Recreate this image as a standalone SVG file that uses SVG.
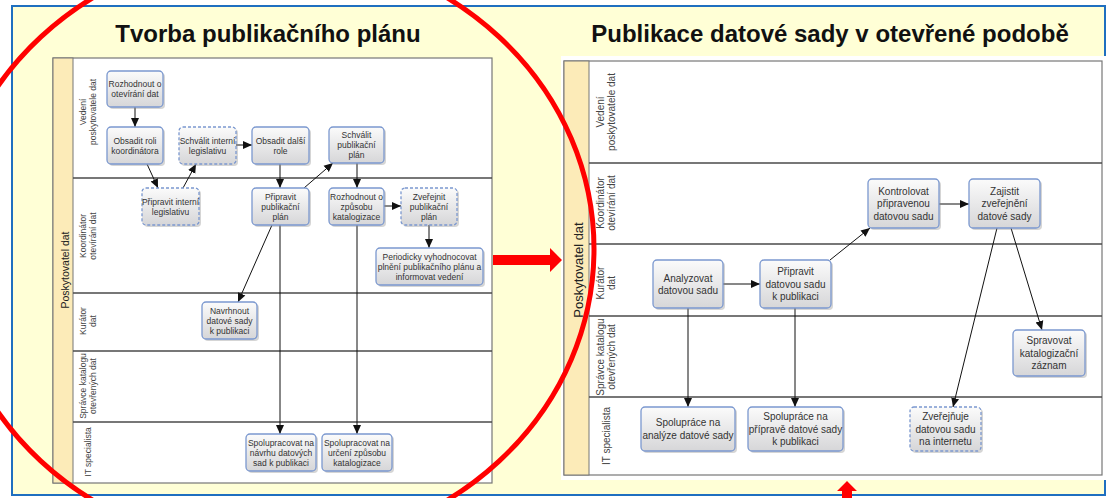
<svg xmlns="http://www.w3.org/2000/svg" width="1107" height="498" viewBox="0 0 1107 498">
<defs>
<linearGradient id="g" x1="0" y1="0" x2="0" y2="1">
<stop offset="0" stop-color="#FBFBFB"/>
<stop offset="1" stop-color="#D6D6D8"/>
</linearGradient>
<marker id="ah" markerUnits="userSpaceOnUse" markerWidth="10" markerHeight="10" viewBox="0 0 10 10" refX="9" refY="5" orient="auto">
<path d="M0,1 L9,5 L0,9 Z" fill="#111"/>
</marker>
<style>
.t{font-family:"Liberation Sans",Arial,sans-serif;fill:#333;text-anchor:middle}
.ln{font-size:8.5px}
.rn{font-size:10px}
.title{font-family:"Liberation Sans",Arial,sans-serif;font-weight:bold;font-size:24px;fill:#111;text-anchor:middle}
.box{fill:url(#g);stroke:#7B98CF;stroke-width:1.3}
.dash{stroke-dasharray:3 2}
.sh{fill:#888;opacity:.35}
.lane{stroke:#4a4a4a;stroke-width:1.3}
.pool{fill:#fff;stroke:#777;stroke-width:1.2}
.strip{fill:#FCEBB8;stroke:#777;stroke-width:1}
.lbl{font-family:"Liberation Sans",Arial,sans-serif;fill:#444;text-anchor:middle}
.c{fill:none;stroke:#111;stroke-width:1;marker-end:url(#ah)}
</style>
</defs>
<rect x="0" y="0" width="1107" height="498" fill="#fff"/>
<rect x="12" y="6" width="1093" height="489" fill="#FFFFD6" stroke="#1F6FC0" stroke-width="2"/>

<text class="title" x="268" y="42">Tvorba publikačního plánu</text>
<text class="title" x="830" y="42">Publikace datové sady v otevřené podobě</text>

<!-- LEFT POOL -->
<g id="pool-left">
<rect class="pool" x="53" y="58" width="439" height="425"/>
<rect class="strip" x="53" y="58" width="20" height="425"/>
<text class="lbl" style="font-size:10.5px;fill:#222" transform="translate(69,270) rotate(-90)">Poskytovatel dat</text>
<line class="lane" x1="73" y1="178" x2="492" y2="178"/>
<line class="lane" x1="73" y1="293" x2="492" y2="293"/>
<line class="lane" x1="73" y1="351" x2="492" y2="351"/>
<line class="lane" x1="73" y1="422" x2="492" y2="422"/>
<g style="font-size:8.5px">
<text class="lbl" transform="translate(86,112) rotate(-90)">Vedení</text>
<text class="lbl" transform="translate(96,112) rotate(-90)">poskytovatele dat</text>
<text class="lbl" transform="translate(86,236) rotate(-90)">Koordinátor</text>
<text class="lbl" transform="translate(96,236) rotate(-90)">otevírání dat</text>
<text class="lbl" transform="translate(86,321) rotate(-90)">Kurátor</text>
<text class="lbl" transform="translate(96,321) rotate(-90)">dat</text>
<text class="lbl" transform="translate(86,386) rotate(-90)">Správce katalogu</text>
<text class="lbl" transform="translate(96,386) rotate(-90)">otevřených dat</text>
<text class="lbl" transform="translate(91,452) rotate(-90)">IT specialista</text>
</g>
</g>

<!-- RIGHT POOL -->
<rect x="561" y="56" width="546" height="424" fill="#fff"/>
<g id="pool-right">
<rect class="pool" x="564" y="61" width="538" height="414"/>
<rect class="strip" x="564" y="61" width="25" height="414"/>
<text class="lbl" style="font-size:13px;fill:#222" transform="translate(583,270) rotate(-90)">Poskytovatel dat</text>
<line class="lane" x1="589" y1="163" x2="1102" y2="163"/>
<line class="lane" x1="589" y1="244" x2="1102" y2="244"/>
<line class="lane" x1="589" y1="316" x2="1102" y2="316"/>
<line class="lane" x1="589" y1="397" x2="1102" y2="397"/>
<g style="font-size:10px">
<text class="lbl" transform="translate(604,112) rotate(-90)">Vedení</text>
<text class="lbl" transform="translate(615,112) rotate(-90)">poskytovatele dat</text>
<text class="lbl" transform="translate(604,203) rotate(-90)">Koordinátor</text>
<text class="lbl" transform="translate(615,203) rotate(-90)">otevírání dat</text>
<text class="lbl" transform="translate(604,283) rotate(-90)">Kurátor</text>
<text class="lbl" transform="translate(615,283) rotate(-90)">dat</text>
<text class="lbl" transform="translate(604,357) rotate(-90)">Správce katalogu</text>
<text class="lbl" transform="translate(615,357) rotate(-90)">otevřených dat</text>
<text class="lbl" transform="translate(610,436) rotate(-90)">IT specialista</text>
</g>
</g>

<!-- CONNECTORS -->
<g id="connectors">
<path class="c" d="M135,107 V127"/>
<path class="c" d="M147,164 L158,188"/>
<path class="c" d="M183,188 L196,164"/>
<path class="c" d="M236,145 H252"/>
<path class="c" d="M280,164 V188"/>
<path class="c" d="M304,188 L333,163"/>
<path class="c" d="M357,163 V188"/>
<path class="c" d="M384,206 H401"/>
<path class="c" d="M429,225 V248"/>
<path class="c" d="M272,225 L238,302"/>
<path class="c" d="M280,225 V434"/>
<path class="c" d="M357,225 V434"/>
<path class="c" d="M723,284 H760"/>
<path class="c" d="M830,260 L870,228"/>
<path class="c" d="M939,204 H969"/>
<path class="c" d="M1011,228 L1042,330"/>
<path class="c" d="M997,228 L953,407"/>
<path class="c" d="M688,308 V407"/>
<path class="c" d="M795,308 V407"/>
</g>

<!-- LEFT NODES -->
<g id="n-rozhodnout-otevirani"><rect class="sh" x="109" y="73" width="56" height="36" rx="4"/><rect class="box" x="107" y="71" width="56" height="36" rx="4"/><text class="t ln" x="135" y="87">Rozhodnout o</text><text class="t ln" x="135" y="97">otevírání dat</text></g>
<g id="n-obsadit-roli"><rect class="sh" x="109" y="129" width="56" height="37" rx="4"/><rect class="box" x="107" y="127" width="56" height="37" rx="4"/><text class="t ln" x="135" y="143.5">Obsadit roli</text><text class="t ln" x="135" y="153.5">koordinátora</text></g>
<g id="n-schvalit-interni"><rect class="sh" x="181" y="129" width="57" height="37" rx="4"/><rect class="box dash" x="179" y="127" width="57" height="37" rx="4"/><text class="t ln" x="207.5" y="143.5">Schválit interní</text><text class="t ln" x="207.5" y="153.5">legislativu</text></g>
<g id="n-obsadit-dalsi"><rect class="sh" x="254" y="129" width="57" height="37" rx="4"/><rect class="box" x="252" y="127" width="57" height="37" rx="4"/><text class="t ln" x="280.5" y="143.5">Obsadit další</text><text class="t ln" x="280.5" y="153.5">role</text></g>
<g id="n-schvalit-plan"><rect class="sh" x="331" y="129" width="55" height="36" rx="4"/><rect class="box" x="329" y="127" width="55" height="36" rx="4"/><text class="t ln" x="356.5" y="138">Schválit</text><text class="t ln" x="356.5" y="148">publikační</text><text class="t ln" x="356.5" y="158">plán</text></g>
<g id="n-pripravit-interni"><rect class="sh" x="144" y="190" width="57" height="37" rx="4"/><rect class="box dash" x="142" y="188" width="57" height="37" rx="4"/><text class="t ln" x="170.5" y="204.5">Připravit interní</text><text class="t ln" x="170.5" y="214.5">legislativu</text></g>
<g id="n-pripravit-plan"><rect class="sh" x="254" y="190" width="57" height="37" rx="4"/><rect class="box" x="252" y="188" width="57" height="37" rx="4"/><text class="t ln" x="280.5" y="199.5">Připravit</text><text class="t ln" x="280.5" y="209.5">publikační</text><text class="t ln" x="280.5" y="219.5">plán</text></g>
<g id="n-rozhodnout-zpusob"><rect class="sh" x="331" y="190" width="55" height="37" rx="4"/><rect class="box" x="329" y="188" width="55" height="37" rx="4"/><text class="t ln" x="356.5" y="199.5">Rozhodnout o</text><text class="t ln" x="356.5" y="209.5">způsobu</text><text class="t ln" x="356.5" y="219.5">katalogizace</text></g>
<g id="n-zverejnit-plan"><rect class="sh" x="403" y="190" width="56" height="37" rx="4"/><rect class="box dash" x="401" y="188" width="56" height="37" rx="4"/><text class="t ln" x="429" y="199.5">Zveřejnit</text><text class="t ln" x="429" y="209.5">publikační</text><text class="t ln" x="429" y="219.5">plán</text></g>
<g id="n-periodicky"><rect class="sh" x="378" y="250" width="107" height="37" rx="4"/><rect class="box" x="376" y="248" width="107" height="37" rx="4"/><text class="t ln" x="429.5" y="259.5">Periodicky vyhodnocovat</text><text class="t ln" x="429.5" y="269.5">plnění publikačního plánu a</text><text class="t ln" x="429.5" y="279.5">informovat vedení</text></g>
<g id="n-navrhnout"><rect class="sh" x="204" y="304" width="55" height="37" rx="4"/><rect class="box" x="202" y="302" width="55" height="37" rx="4"/><text class="t ln" x="229.5" y="313.5">Navrhnout</text><text class="t ln" x="229.5" y="323.5">datové sady</text><text class="t ln" x="229.5" y="333.5">k publikaci</text></g>
<g id="n-spolupracovat-navrh"><rect class="sh" x="248" y="436" width="70" height="37" rx="4"/><rect class="box" x="246" y="434" width="70" height="37" rx="4"/><text class="t ln" x="281" y="445.5">Spolupracovat na</text><text class="t ln" x="281" y="455.5">návrhu datových</text><text class="t ln" x="281" y="465.5">sad k publikaci</text></g>
<g id="n-spolupracovat-urceni"><rect class="sh" x="324" y="436" width="70" height="37" rx="4"/><rect class="box" x="322" y="434" width="70" height="37" rx="4"/><text class="t ln" x="357" y="445.5">Spolupracovat na</text><text class="t ln" x="357" y="455.5">určení způsobu</text><text class="t ln" x="357" y="465.5">katalogizace</text></g>

<!-- RIGHT NODES -->
<g id="n-analyzovat"><rect class="sh" x="655" y="262" width="70" height="48" rx="4"/><rect class="box" x="653" y="260" width="70" height="48" rx="4"/><text class="t rn" x="688" y="281.5">Analyzovat</text><text class="t rn" x="688" y="294">datovou sadu</text></g>
<g id="n-pripravit-sadu"><rect class="sh" x="762" y="262" width="71" height="48" rx="4"/><rect class="box" x="760" y="260" width="71" height="48" rx="4"/><text class="t rn" x="795.5" y="275">Připravit</text><text class="t rn" x="795.5" y="287.5">datovou sadu</text><text class="t rn" x="795.5" y="300">k publikaci</text></g>
<g id="n-kontrolovat"><rect class="sh" x="870" y="181" width="71" height="49" rx="4"/><rect class="box" x="868" y="179" width="71" height="49" rx="4"/><text class="t rn" x="903.5" y="194.5">Kontrolovat</text><text class="t rn" x="903.5" y="207">připravenou</text><text class="t rn" x="903.5" y="219.5">datovou sadu</text></g>
<g id="n-zajistit"><rect class="sh" x="971" y="181" width="71" height="49" rx="4"/><rect class="box" x="969" y="179" width="71" height="49" rx="4"/><text class="t rn" x="1004.5" y="194.5">Zajistit</text><text class="t rn" x="1004.5" y="207">zveřejnění</text><text class="t rn" x="1004.5" y="219.5">datové sady</text></g>
<g id="n-spravovat"><rect class="sh" x="1015" y="332" width="72" height="46" rx="4"/><rect class="box" x="1013" y="330" width="72" height="46" rx="4"/><text class="t rn" x="1049" y="344">Spravovat</text><text class="t rn" x="1049" y="356.5">katalogizační</text><text class="t rn" x="1049" y="369">záznam</text></g>
<g id="n-spoluprace-analyza"><rect class="sh" x="643" y="409" width="94" height="44" rx="4"/><rect class="box" x="641" y="407" width="94" height="44" rx="4"/><text class="t rn" x="688" y="426">Spolupráce na</text><text class="t rn" x="688" y="438.5">analýze datové sady</text></g>
<g id="n-spoluprace-priprava"><rect class="sh" x="750" y="409" width="95" height="44" rx="4"/><rect class="box" x="748" y="407" width="95" height="44" rx="4"/><text class="t rn" x="795.5" y="420">Spolupráce na</text><text class="t rn" x="795.5" y="432.5">přípravě datové sady</text><text class="t rn" x="795.5" y="445">k publikaci</text></g>
<g id="n-zverejnuje"><rect class="sh" x="912" y="409" width="71" height="44" rx="4"/><rect class="box dash" x="910" y="407" width="71" height="44" rx="4"/><text class="t rn" x="945.5" y="420">Zveřejňuje</text><text class="t rn" x="945.5" y="432.5">datovou sadu</text><text class="t rn" x="945.5" y="445">na internetu</text></g>

<!-- RED ANNOTATIONS -->
<ellipse cx="270" cy="249" rx="324" ry="300" fill="none" stroke="#FF0000" stroke-width="5"/>
<polygon points="493,255 550,255 550,248 562,260 550,272 550,265 493,265" fill="#FF0000"/>
<polygon points="847,481 857,491 852,491 852,498 842,498 842,491 837,491" fill="#FF0000"/>
</svg>
